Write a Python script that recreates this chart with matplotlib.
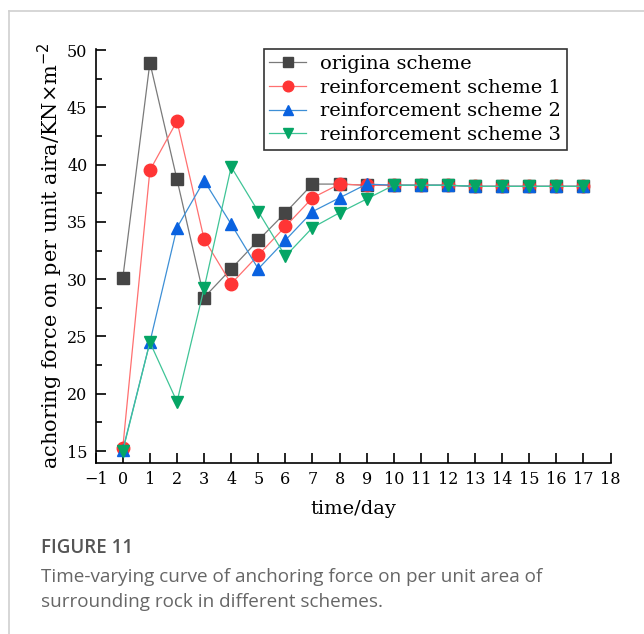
import matplotlib.pyplot as plt
from matplotlib.lines import Line2D
from matplotlib.ticker import MultipleLocator

# data
days = list(range(0, 18))
original = [30.1, 48.9, 38.7, 28.4, 30.9, 33.4, 35.8, 38.3, 38.3, 38.2,
            38.2, 38.2, 38.2, 38.1, 38.1, 38.1, 38.1, 38.1]
scheme1 = [15.3, 39.5, 43.8, 33.5, 29.6, 32.1, 34.6, 37.1, 38.3, 38.2,
           38.2, 38.2, 38.2, 38.1, 38.1, 38.1, 38.1, 38.1]
scheme2 = [15.1, 24.5, 34.5, 38.6, 34.8, 30.9, 33.4, 35.9, 37.1, 38.3,
           38.2, 38.2, 38.2, 38.1, 38.1, 38.1, 38.1, 38.1]
scheme3 = [15.0, 24.5, 19.3, 29.2, 39.8, 35.9, 32.0, 34.5, 35.8, 37.0,
           38.2, 38.2, 38.2, 38.1, 38.1, 38.1, 38.1, 38.1]
labels = ["origina scheme", "reinforcement scheme 1",
          "reinforcement scheme 2", "reinforcement scheme 3"]

series = [original, scheme1, scheme2, scheme3]
markers = ["s", "o", "^", "v"]
line_colors = ["#7a7a7a", "#ff7070", "#3d8fd6", "#3fc496"]
face_colors = ["#454545", "#ff3535", "#0a62e0", "#05a565"]

plt.rcParams['font.family'] = ['DejaVu Serif']

fig = plt.figure(figsize=(6.44, 6.34), dpi=100)
ax = fig.add_axes([0.1486, 0.2705, 0.7995, 0.6524])

for vals, mk, lc, fc, lab in zip(series, markers, line_colors, face_colors, labels):
    ax.plot(days, vals, color=lc, lw=0.9, marker=mk, markersize=9,
            markerfacecolor=fc, markeredgecolor=fc, label=lab)

ax.set_xlim(-1, 18)
ax.set_ylim(14, 50.1)
ax.set_xticks(range(-1, 19))
ax.yaxis.set_major_locator(MultipleLocator(5))
ax.yaxis.set_minor_locator(MultipleLocator(2.5))
ax.set_yticks(range(15, 51, 5))
ax.tick_params(which='major', direction='in', length=7, width=1.2, labelsize=11.5,
               pad=6)
ax.tick_params(which='minor', direction='in', length=4, width=1.2)
ax.spines['top'].set_visible(False)
ax.spines['right'].set_visible(False)
for s in ['left', 'bottom']:
    ax.spines[s].set_linewidth(1.2)

ax.set_xlabel("time/day", fontsize=14, labelpad=9)
ax.set_ylabel("achoring force on per unit aira/KN\u00d7m$^{-2}$",
              fontsize=15, labelpad=1)

leg = ax.legend(loc='upper right', bbox_to_anchor=(0.915, 1.0), borderaxespad=0,
                fontsize=14, frameon=True, fancybox=False, edgecolor='#333333',
                framealpha=1, handlelength=1.9, labelspacing=0.3,
                handletextpad=0.7, borderpad=0.3, markerscale=0.85)
leg.get_frame().set_linewidth(1.2)

# card frame around the figure
fig.add_artist(Line2D([9 / 644, 1], [1 - 10.5 / 634, 1 - 10.5 / 634],
                      color='#d0d0d0', lw=1.2))
fig.add_artist(Line2D([9 / 644, 9 / 644], [0, 1 - 10.5 / 634],
                      color='#d0d0d0', lw=1.2))

# caption
fig.text(41 / 644, 1 - 548 / 634, "FIGURE 11", fontsize=13.5, color='#555555',
         family='Open Sans', weight='semibold', va='center', ha='left')
fig.text(41 / 644, 1 - 577 / 634,
         "Time-varying curve of anchoring force on per unit area of",
         fontsize=13.6, color='#666666', family='Open Sans', va='center', ha='left')
fig.text(41 / 644, 1 - 602 / 634, "surrounding rock in different schemes.",
         fontsize=13.6, color='#666666', family='Open Sans', va='center', ha='left')

fig.savefig("out.png", dpi=100)
